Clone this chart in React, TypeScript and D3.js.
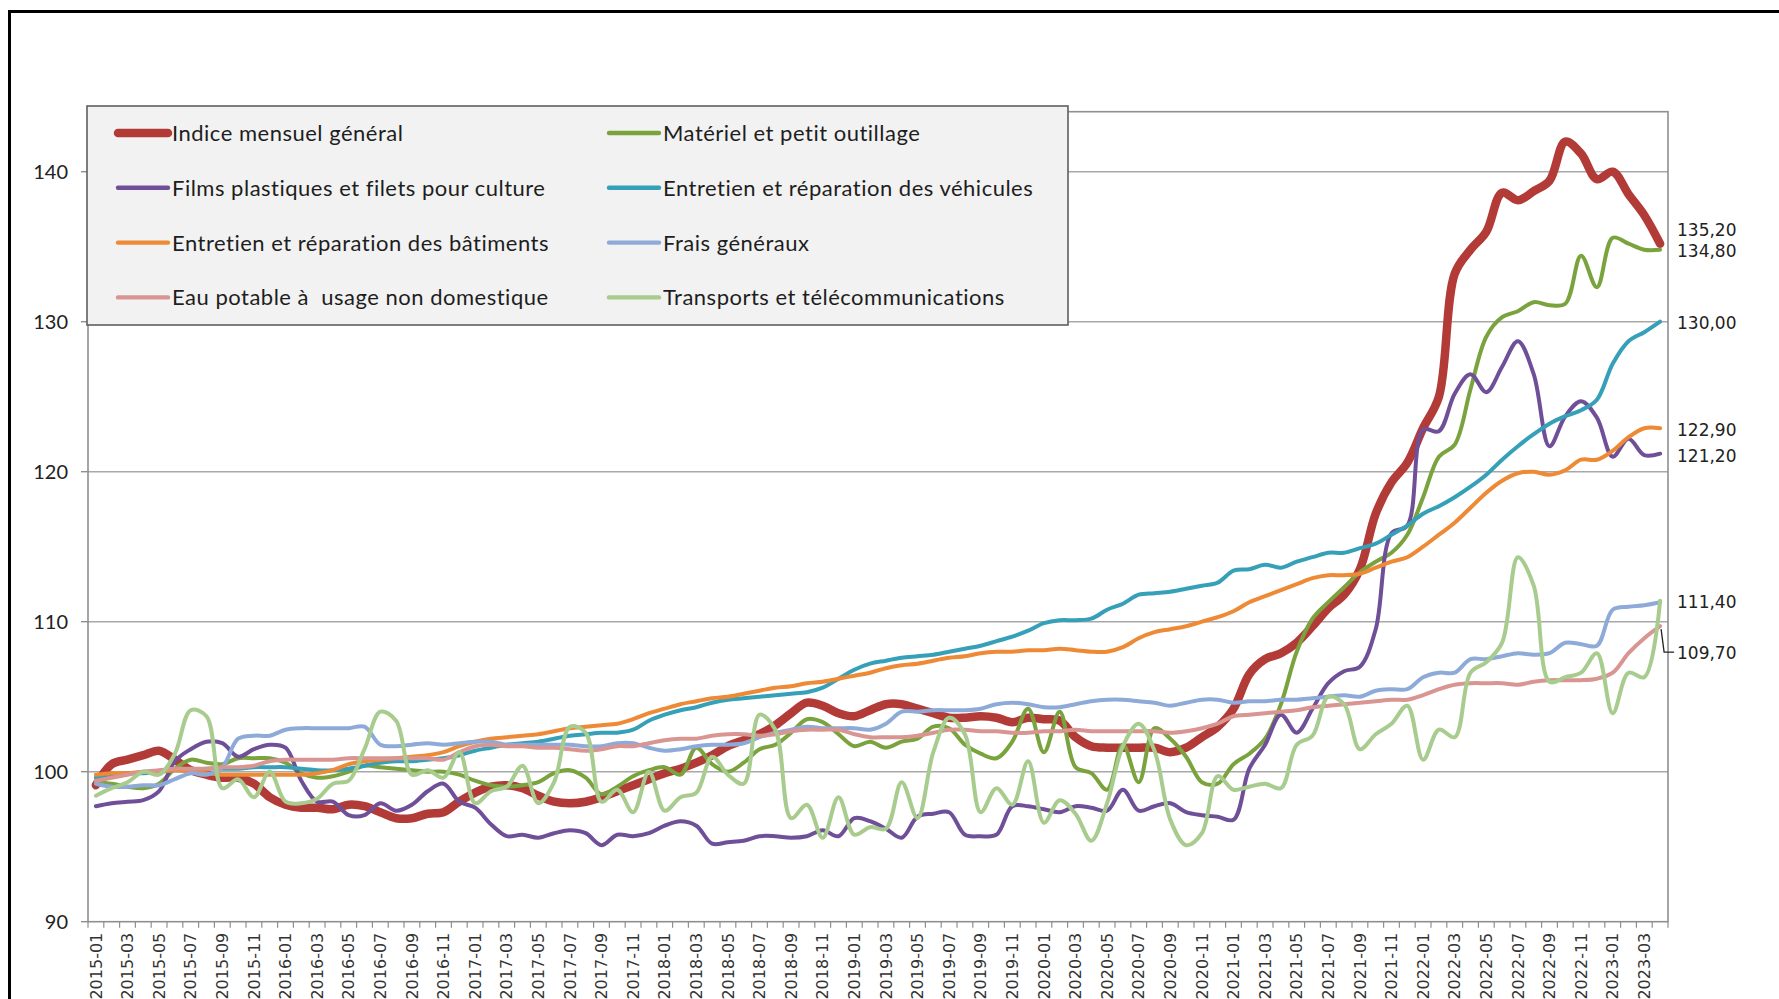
import React from 'react';
import * as d3 from 'd3';

// categories: monthly from 2015-01 to 2023-04
const months: string[] = d3.range(100).map(i => {
  const year = 2015 + Math.floor(i / 12);
  const month = (i % 12) + 1;
  return `${year}-${String(month).padStart(2, '0')}`;
});

const seriesNames = [
  'Indice mensuel général',
  'Matériel et petit outillage',
  'Films plastiques et filets pour culture',
  'Entretien et réparation des véhicules',
  'Entretien et réparation des bâtiments',
  'Frais généraux',
  'Eau potable à  usage non domestique',
  'Transports et télécommunications',
];

const indiceGeneral = [
  99.1, 100.5, 100.8, 101.1, 101.4, 100.8, 100.1, 99.8, 99.6, 99.6,
  99.2, 98.3, 97.8, 97.6, 97.6, 97.5, 97.8, 97.7, 97.3, 96.9,
  96.9, 97.2, 97.3, 98.0, 98.6, 99.0, 99.1, 98.9, 98.4, 98.0,
  97.9, 98.0, 98.3, 98.7, 99.1, 99.5, 99.9, 100.2, 100.6, 101.1,
  101.7, 102.1, 102.5, 103.1, 103.9, 104.6, 104.4, 103.9, 103.7, 104.1,
  104.5, 104.5, 104.2, 103.9, 103.6, 103.6, 103.7, 103.6, 103.3, 103.6,
  103.5, 103.4, 102.3, 101.7, 101.6, 101.6, 101.6, 101.6, 101.3, 101.6,
  102.3, 103.0, 104.2, 106.5, 107.5, 107.9, 108.6, 109.7, 110.9, 111.8,
  113.5, 117.2, 119.3, 120.6, 122.9, 125.0, 133.2, 134.8, 136.0, 138.6,
  138.1, 138.7, 139.4, 142.0, 141.2, 139.5, 140.0, 138.5, 137.1, 135.2,
];

const materiel = [
  99.3, 99.2, 99.0, 98.9, 99.2, 100.2, 100.8, 100.6, 100.5, 100.9,
  100.9, 100.9, 100.6, 99.9, 99.6, 99.7, 100.0, 100.4, 100.3, 100.2,
  100.1, 100.0, 100.0, 99.8, 99.4, 99.1, 99.0, 99.1, 99.3, 99.9,
  100.1, 99.6, 98.5, 99.0, 99.7, 100.1, 100.3, 99.8, 101.6, 100.5,
  100.0, 100.6, 101.5, 101.8, 102.6, 103.5, 103.3, 102.5, 101.7, 102.0,
  101.6, 102.0, 102.2, 103.0, 102.9, 101.8, 101.2, 100.9, 102.0, 104.2,
  101.3, 104.0, 100.3, 99.9, 98.8, 101.8, 99.3, 102.9, 102.2, 101.0,
  99.3, 99.2, 100.5, 101.2, 102.2, 104.5, 108.0, 110.2, 111.3, 112.3,
  113.3, 114.0, 114.6, 115.8, 118.3, 121.0, 121.8, 125.5, 129.0, 130.3,
  130.7, 131.3, 131.1, 131.2, 134.4, 132.3, 135.6, 135.2, 134.8, 134.8,
];

const films = [
  97.7, 97.9, 98.0, 98.1, 98.7, 100.7, 101.5, 102.0, 101.9, 101.0,
  101.5, 101.8, 101.6, 99.4, 98.0, 98.0, 97.1, 97.1, 97.9, 97.4,
  97.8, 98.7, 99.2, 98.0, 97.6, 96.5, 95.7, 95.8, 95.6, 95.9,
  96.1, 95.9, 95.1, 95.8, 95.7, 95.9, 96.4, 96.7, 96.4, 95.2,
  95.3, 95.4, 95.7, 95.7, 95.6, 95.7, 96.1, 95.7, 96.9, 96.7,
  96.2, 95.6, 97.0, 97.2, 97.3, 95.8, 95.7, 95.8, 97.7, 97.7,
  97.5, 97.3, 97.7, 97.6, 97.4, 98.8, 97.4, 97.7, 97.9, 97.3,
  97.1, 97.0, 96.8, 100.2, 101.8, 103.8, 102.6, 104.2, 105.9, 106.7,
  107.0, 109.5, 115.9, 116.4, 122.8, 122.7, 125.2, 126.5, 125.3, 127.0,
  128.7, 126.5, 121.7, 123.7, 124.7, 123.6, 121.0, 122.2, 121.1, 121.2,
];

const vehicules = [
  99.6, 99.8, 99.9, 99.9, 100.0, 100.1, 100.1, 100.2, 100.2, 100.2,
  100.3, 100.3, 100.3, 100.2, 100.1, 100.1, 100.2, 100.4, 100.6, 100.7,
  100.7, 100.8, 100.9, 101.1, 101.4, 101.6, 101.8, 101.9, 102.0, 102.2,
  102.4, 102.5, 102.6, 102.6, 102.8, 103.4, 103.8, 104.1, 104.3, 104.6,
  104.8, 104.9, 105.0, 105.1, 105.2, 105.3, 105.6, 106.2, 106.8, 107.2,
  107.4, 107.6, 107.7, 107.8, 108.0, 108.2, 108.4, 108.7, 109.0, 109.4,
  109.9, 110.1, 110.1, 110.2, 110.8, 111.2, 111.8, 111.9, 112.0, 112.2,
  112.4, 112.6, 113.4, 113.5, 113.8, 113.6, 114.0, 114.3, 114.6, 114.6,
  114.9, 115.2, 115.8, 116.4, 117.2, 117.7, 118.3, 119.0, 119.8, 120.8,
  121.7, 122.5, 123.2, 123.7, 124.1, 124.8, 127.2, 128.7, 129.3, 130.0,
];

const batiments = [
  99.8, 99.9, 99.9, 100.0, 100.0, 100.1, 100.0, 99.9, 99.8, 99.8,
  99.8, 99.8, 99.8, 99.8, 99.9, 100.1, 100.5, 100.7, 100.8, 100.9,
  101.0, 101.1, 101.3, 101.7, 102.0, 102.2, 102.3, 102.4, 102.5, 102.7,
  102.9, 103.0, 103.1, 103.2, 103.5, 103.9, 104.2, 104.5, 104.7, 104.9,
  105.0, 105.2, 105.4, 105.6, 105.7, 105.9, 106.0, 106.2, 106.4, 106.6,
  106.9, 107.1, 107.2, 107.4, 107.6, 107.7, 107.9, 108.0, 108.0, 108.1,
  108.1, 108.2, 108.1, 108.0, 108.0, 108.3, 108.9, 109.3, 109.5, 109.7,
  110.0, 110.3, 110.7, 111.3, 111.7, 112.1, 112.5, 112.9, 113.1, 113.1,
  113.2, 113.6, 114.0, 114.3, 115.0, 115.8, 116.6, 117.6, 118.6, 119.4,
  119.9, 120.0, 119.8, 120.1, 120.8, 120.8, 121.4, 122.3, 122.9, 122.9,
];

const fraisGeneraux = [
  99.2, 99.0, 99.0, 99.1, 99.1, 99.5, 99.9, 99.8, 100.3, 102.2,
  102.4, 102.4, 102.8, 102.9, 102.9, 102.9, 102.9, 103.0, 101.8, 101.7,
  101.8, 101.9, 101.8, 101.9, 102.0, 102.0, 101.8, 101.8, 101.8, 101.8,
  101.8, 101.7, 101.7, 101.9, 101.9, 101.6, 101.4, 101.5, 101.7, 101.8,
  101.8, 101.9, 102.3, 102.6, 102.8, 103.0, 102.9, 102.9, 102.9, 102.8,
  103.2, 104.0, 104.0, 104.1, 104.1, 104.1, 104.2, 104.5, 104.6, 104.5,
  104.3, 104.3, 104.5, 104.7, 104.8, 104.8, 104.7, 104.6, 104.4, 104.6,
  104.8, 104.8, 104.6, 104.7, 104.7, 104.8, 104.8, 104.9, 105.0, 105.1,
  105.0, 105.4, 105.5, 105.5, 106.3, 106.6, 106.6, 107.5, 107.5, 107.7,
  107.9, 107.8, 107.9, 108.6, 108.5, 108.4, 110.8, 111.0, 111.1, 111.3,
];

const eauPotable = [
  99.4, 99.6, 99.8, 100.0, 100.1, 100.2, 100.2, 100.2, 100.3, 100.3,
  100.4, 100.7, 100.8, 100.8, 100.8, 100.8, 100.9, 100.9, 100.9, 100.9,
  100.9, 100.9, 100.8, 101.3, 101.7, 101.8, 101.7, 101.7, 101.6, 101.6,
  101.5, 101.4, 101.5, 101.7, 101.7, 101.9, 102.1, 102.2, 102.2, 102.4,
  102.5, 102.5, 102.4, 102.5, 102.7, 102.8, 102.8, 102.8, 102.5, 102.3,
  102.3, 102.3, 102.4, 102.6, 102.8, 102.8, 102.7, 102.7, 102.6, 102.6,
  102.7, 102.7, 102.8, 102.7, 102.7, 102.7, 102.7, 102.7, 102.6, 102.7,
  102.9, 103.2, 103.7, 103.8, 103.9, 104.0, 104.1, 104.3, 104.4, 104.5,
  104.6, 104.7, 104.8, 104.8, 105.1, 105.5, 105.8, 105.9, 105.9, 105.9,
  105.8, 106.0, 106.1, 106.1, 106.1, 106.2, 106.6, 107.9, 108.9, 109.7,
];

const transports = [
  98.4, 98.9, 99.3, 100.0, 99.8, 101.2, 104.1, 103.7, 98.9, 99.5,
  98.3, 100.0, 98.0, 97.9, 98.2, 99.2, 99.4, 101.5, 104.0, 103.4,
  99.8, 100.1, 99.6, 101.3, 97.9, 98.7, 99.0, 100.4, 97.9, 99.3,
  103.0, 102.6, 98.0, 98.8, 97.3, 100.0, 97.4, 98.3, 98.6, 101.0,
  99.8, 99.2, 103.8, 102.8, 96.9, 97.8, 95.6, 98.3, 95.8, 96.3,
  96.2, 99.3, 96.9, 101.3, 103.6, 102.5, 97.3, 98.9, 97.8, 100.7,
  96.6, 98.1, 97.2, 95.4, 97.9, 101.7, 103.2, 101.4, 96.8, 95.1,
  95.9, 99.7, 98.8, 99.0, 99.2, 98.9, 101.8, 102.4, 105.0, 104.5,
  101.5, 102.5, 103.2, 104.4, 100.8, 102.8, 102.3, 106.6, 107.3, 108.6,
  114.3, 112.4, 106.0, 106.3, 106.6, 107.9, 103.9, 106.6, 106.3, 111.4,
];

const yTicks = [90, 100, 110, 120, 130, 140];

const colors = ['#b23b38', '#7aa33e', '#6f4f98', '#35a0b8', '#ee8a35', '#8eaad8', '#d99592', '#a8cc8e'];

const W = 1779;
const H = 999;

const App = () => {
  const margin = { left: 88, right: 1668, top: 111.7, bottom: 921.7 };

  const x = d3.scalePoint<string>()
      .domain(months)
      .range([margin.left, margin.right])
      .padding(0.5);

  const y = d3.scaleLinear()
      .domain([90, 144])
      .range([margin.bottom, margin.top]);

  const step = x.step();

  const series = [indiceGeneral, materiel, films, vehicules, batiments, fraisGeneraux, eauPotable, transports]
      .map((values, i) => ({
        name: seriesNames[i],
        values,
        color: colors[i],
        width: i === 0 ? 8.5 : 4,
      }));

  const line = d3.line<number>()
      .x((_, i) => x(months[i]) as number)
      .y(d => y(d))
      .curve(d3.curveCatmullRom.alpha(0.5));

  const fmt = (v: number) => d3.format('.2f')(v).replace('.', ',');

  // labels at the right end, with a small vertical shift so they don't collide
  const endLabels = [
    { s: 0, dy: -14 },
    { s: 1, dy: 1 },
    { s: 3, dy: 1 },
    { s: 4, dy: 2 },
    { s: 2, dy: 2 },
    { s: 7, dy: 1 },
    { s: 6, dy: 27 },
  ];

  const lastX = x(months[months.length - 1]) as number;
  const pinkEnd = y(eauPotable[eauPotable.length - 1]);

  const legend = { x: 87, y: 106, w: 981, h: 219 };
  const legendCols = [118, 609];
  const legendRow0 = 133;
  const legendRowStep = 54.8;

  return (
      <svg width={W} height={H} style={{ position: 'absolute', left: 0, top: 0, background: '#fff' }}>
        <rect x={0} y={0} width={W} height={H} fill="#fff" />

        {/* grid lines */}
        {yTicks.filter(t => t > 90).map(t => (
            <line key={t} x1={margin.left} x2={margin.right} y1={y(t)} y2={y(t)} stroke="#a8a8a8" strokeWidth={1.4} />
        ))}

        {/* plot frame */}
        <rect x={margin.left} y={margin.top} width={margin.right - margin.left} height={margin.bottom - margin.top}
              fill="none" stroke="#8f8f8f" strokeWidth={1.6} />

        {/* y ticks and labels */}
        {yTicks.map(t => (
            <g key={t}>
              <line x1={margin.left - 7} x2={margin.left} y1={y(t)} y2={y(t)} stroke="#8f8f8f" strokeWidth={1.4} />
              <text x={68} y={y(t)} dy="0.36em" textAnchor="end" fontFamily="Lato, 'Open Sans', sans-serif"
                    fontSize={20} fill="#222">{t}</text>
            </g>
        ))}

        {/* x ticks */}
        {d3.range(months.length + 1).map(k => (
            <line key={k} x1={margin.left + k * step} x2={margin.left + k * step} y1={margin.bottom}
                  y2={margin.bottom + 6} stroke="#8f8f8f" strokeWidth={1.2} />
        ))}

        {/* x labels, every second month */}
        {months.map((m, i) => i % 2 === 0 ? (
            <text key={m} transform={`translate(${x(m)},${margin.bottom + 11}) rotate(-90)`} dy="0.36em"
                  textAnchor="end" fontFamily="'DejaVu Sans', sans-serif" fontSize={16} fill="#333">{m}</text>
        ) : null)}

        {/* series */}
        {series.map(s => (
            <path key={s.name} d={line(s.values) || ''} fill="none" stroke={s.color} strokeWidth={s.width}
                  strokeLinejoin="round" strokeLinecap="round" />
        ))}

        {/* legend */}
        <rect x={legend.x} y={legend.y} width={legend.w} height={legend.h} fill="#f2f2f2" stroke="#5e5e5e"
              strokeWidth={1.6} />
        {series.map((s, i) => {
          const lx = legendCols[i % 2];
          const ly = legendRow0 + Math.floor(i / 2) * legendRowStep;
          return (
              <g key={s.name}>
                <line x1={lx} x2={lx + 50} y1={ly} y2={ly} stroke={s.color} strokeWidth={i === 0 ? 8.5 : 4.4}
                      strokeLinecap="round" />
                <text x={lx + 54} y={ly} dy="0.36em" fontFamily="Lato, 'Open Sans', sans-serif" fontSize={22}
                      letterSpacing={0.5} fill="#1e1e1e" style={{ whiteSpace: 'pre' }}>{s.name}</text>
              </g>
          );
        })}

        {/* end labels */}
        {endLabels.map(l => {
          const v = series[l.s].values[series[l.s].values.length - 1];
          return (
              <text key={l.s} x={1677} y={y(v) + l.dy} dy="0.36em" fontFamily="'DejaVu Sans', sans-serif" fontSize={17}
                    fill="#222">{fmt(v)}</text>
          );
        })}
        <path d={`M${lastX + 1},${pinkEnd + 3} L${lastX + 4},${pinkEnd + 26} L${lastX + 14},${pinkEnd + 26}`}
              fill="none" stroke="#222" strokeWidth={1.3} />

        {/* outer frame */}
        <rect x={9.5} y={11.5} width={1900} height={1100} fill="none" stroke="#000" strokeWidth={3} />
      </svg>
  );
};

export default App;
